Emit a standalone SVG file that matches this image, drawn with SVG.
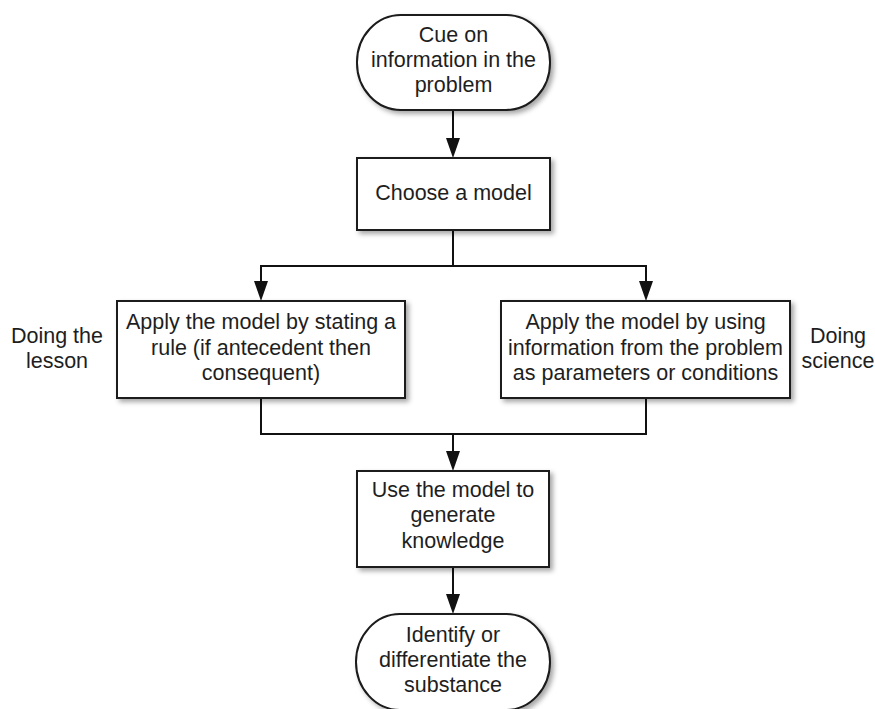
<svg xmlns="http://www.w3.org/2000/svg" width="875" height="709" viewBox="0 0 875 709">
<defs>
<filter id="sh" x="-10%" y="-10%" width="125%" height="130%">
<feDropShadow dx="3" dy="3" stdDeviation="2.5" flood-color="#000" flood-opacity="0.35"/>
</filter>
<marker id="arr" viewBox="0 0 14 20" refX="7" refY="20" markerWidth="14" markerHeight="20" markerUnits="userSpaceOnUse" orient="auto-start-reverse">
<path d="M0,0 L14,0 L7,20 Z" fill="#111"/>
</marker>
</defs>
<style>
.n{fill:#fff;stroke:#1a1a1a;stroke-width:2;filter:url(#sh)}
.t{font-family:"Liberation Sans",Arial,sans-serif;font-size:21.5px;fill:#1e1e1e;text-anchor:middle}
.c{fill:none;stroke:#111;stroke-width:2}
</style>
<rect width="875" height="709" fill="#fff"/>
<g id="connectors">
<line class="c" x1="453" y1="110" x2="453" y2="138"/>
<path d="M446,138 L460,138 L453,158 Z" fill="#111"/>
<line class="c" x1="453" y1="230" x2="453" y2="266"/>
<polyline class="c" points="261,281 261,266 646,266 646,281"/>
<path d="M254,281 L268,281 L261,301 Z" fill="#111"/>
<path d="M639,281 L653,281 L646,301 Z" fill="#111"/>
<polyline class="c" points="261,398 261,434 646,434 646,398"/>
<line class="c" x1="453" y1="434" x2="453" y2="451"/>
<path d="M446,451 L460,451 L453,471 Z" fill="#111"/>
<line class="c" x1="453" y1="567" x2="453" y2="594"/>
<path d="M446,594 L460,594 L453,614 Z" fill="#111"/>
</g>
<g id="start">
<rect class="n" x="357" y="15" width="193" height="95" rx="44" ry="47"/>
<text class="t" x="453.5" y="42">Cue on</text>
<text class="t" x="453.5" y="67">information in the</text>
<text class="t" x="453.5" y="92">problem</text>
</g>
<g id="choose">
<rect class="n" x="357" y="158" width="193" height="72"/>
<text class="t" x="453.5" y="200">Choose a model</text>
</g>
<g id="rule">
<rect class="n" x="117" y="301" width="288" height="97"/>
<text class="t" x="261" y="329">Apply the model by stating a</text>
<text class="t" x="261" y="355">rule (if antecedent then</text>
<text class="t" x="261" y="380">consequent)</text>
</g>
<g id="lesson-label">
<text class="t" x="57" y="343">Doing the</text>
<text class="t" x="57" y="368">lesson</text>
</g>
<g id="params">
<rect class="n" x="501" y="301" width="289" height="97"/>
<text class="t" x="645.5" y="329">Apply the model by using</text>
<text class="t" x="645.5" y="355">information from the problem</text>
<text class="t" x="645.5" y="380">as parameters or conditions</text>
</g>
<g id="science-label">
<text class="t" x="838" y="343">Doing</text>
<text class="t" x="838" y="368">science</text>
</g>
<g id="generate">
<rect class="n" x="357" y="471" width="192" height="96"/>
<text class="t" x="453" y="497">Use the model to</text>
<text class="t" x="453" y="522">generate</text>
<text class="t" x="453" y="548">knowledge</text>
</g>
<g id="end">
<rect class="n" x="356" y="614" width="194" height="96" rx="44" ry="48"/>
<text class="t" x="453" y="642">Identify or</text>
<text class="t" x="453" y="667">differentiate the</text>
<text class="t" x="453" y="692">substance</text>
</g>
</svg>
